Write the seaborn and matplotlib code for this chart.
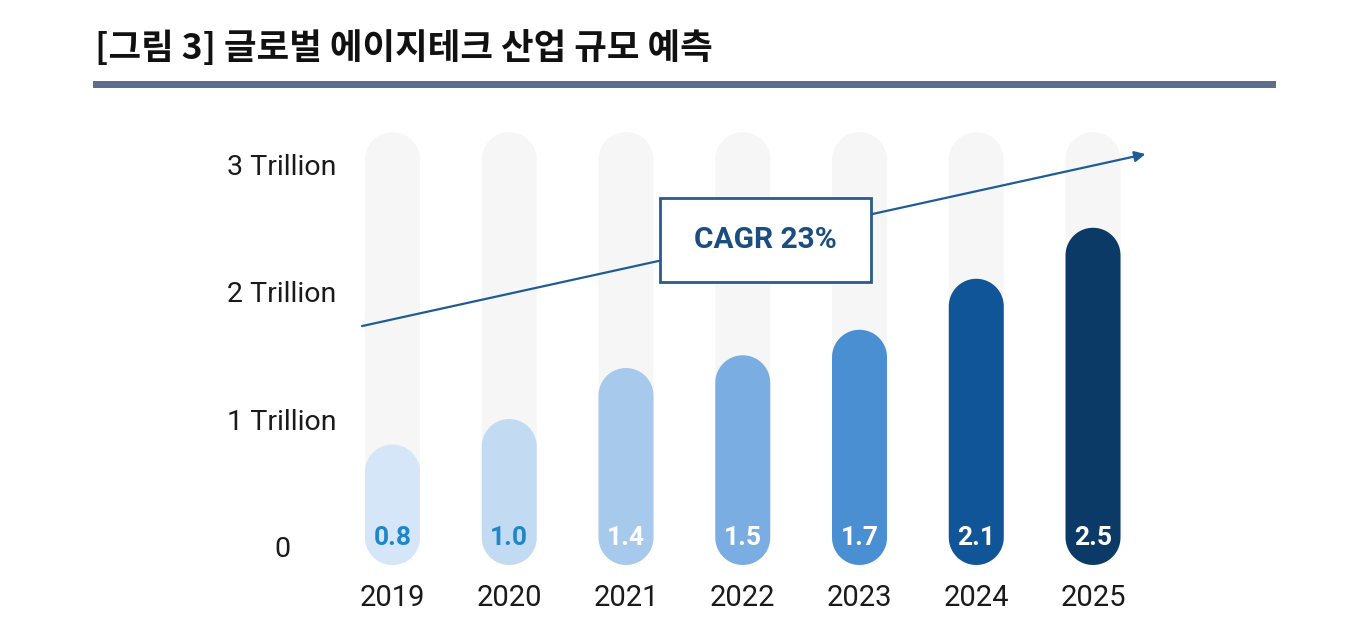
"""Global age-tech market size forecast, rounded bar chart."""

import numpy as np
import matplotlib
matplotlib.use("Agg")
import matplotlib.pyplot as plt
from matplotlib.patches import Polygon, Rectangle
import seaborn as sns

# data
years = ["2019", "2020", "2021", "2022", "2023", "2024", "2025"]
market_size = [0.8, 1.0, 1.4, 1.5, 1.7, 2.1, 2.5]  # trillion
value_labels = ["0.8", "1.0", "1.4", "1.5", "1.7", "2.1", "2.5"]
y_ticks = [0, 1, 2, 3]
y_tick_labels = ["0", "1 Trillion", "2 Trillion", "3 Trillion"]
title = "[그림 3] 글로벌 에이지테크 산업 규모 예측"
cagr_text = "CAGR 23%"

bar_colors = ["#d4e6f7", "#c3dbf2", "#a6c9ec", "#7aaee2", "#4a8fd2", "#0f5597", "#0b3a66"]
label_colors = ["#1f86c9", "#1f86c9", "white", "white", "white", "white", "white"]
track_color = "#f6f6f6"
arrow_color = "#1f5c96"

TRACK_TOP = 3.25
BAR_BOTTOM = -0.145
BAR_WIDTH = 0.471

sns.set_style("white")
plt.rcParams["font.family"] = ["Roboto", "Noto Sans CJK KR", "DejaVu Sans"]

fig = plt.figure(figsize=(13.54, 6.32), dpi=100)
W, H = 1354, 632
# axes placed in pixel terms
ax = fig.add_axes([334.1 / W, (H - 572) / H, 817.3 / W, (572 - 119.4) / H])

# seaborn draws the tracks and bars, then they get reshaped into pills
sns.barplot(x=years, y=[TRACK_TOP] * len(years), color=track_color,
            width=BAR_WIDTH, saturation=1, ax=ax, zorder=1)
sns.barplot(x=years, y=market_size, hue=years, palette=bar_colors,
            legend=False, width=BAR_WIDTH, saturation=1, ax=ax, zorder=2)

ax.set_xlim(-0.5, 6.5)
ax.set_ylim(-0.2, 3.35)

# pixels per data unit, for circular end caps
p0 = ax.transData.transform((0, 0))
p1 = ax.transData.transform((1, 1))
px_x, px_y = p1[0] - p0[0], p1[1] - p0[1]


def pill(x0, w, y_top, color, z):
    r = w / 2
    ry = r * px_x / px_y
    xc = x0 + r
    t = np.linspace(0, np.pi, 40)
    top = np.column_stack([xc + r * np.cos(t), y_top - ry + ry * np.sin(t)])
    bot = np.column_stack([xc - r * np.cos(t), BAR_BOTTOM + ry - ry * np.sin(t)])
    verts = np.vstack([top, bot])
    ax.add_patch(Polygon(verts, closed=True, facecolor=color, edgecolor="none",
                         zorder=z, clip_on=False))


patches = list(ax.patches)
for i, p in enumerate(patches):
    p.set_visible(False)
    z = 1 if i < len(years) else 2
    pill(p.get_x(), p.get_width(), p.get_height(), p.get_facecolor(), z)

# value labels inside bars
for i, (lab, col) in enumerate(zip(value_labels, label_colors)):
    ax.text(i, 0.067, lab, ha="center", va="center", color=col,
            fontsize=19, fontweight="bold", zorder=5)

# CAGR arrow and box
ax.annotate("", xy=(6.449, 3.078), xytext=(-0.261, 1.729),
            arrowprops=dict(arrowstyle="-|>", color=arrow_color, lw=1.6,
                            mutation_scale=16, shrinkA=0, shrinkB=0),
            annotation_clip=False, zorder=6)
ax.add_patch(Rectangle((2.292, 2.075), 1.808, 0.658, facecolor="white",
                       edgecolor="#2b5b8c", lw=2, zorder=7, clip_on=False))
ax.text(3.196, 2.404, cagr_text, ha="center", va="center", color="#1c4d80",
        fontsize=21.5, fontweight="bold", zorder=8)

# axes cosmetics: y labels are centred in their column
ax.set_yticks(y_ticks, y_tick_labels)
ax.tick_params(axis="y", length=0, pad=37.5, labelsize=20.5, labelcolor="#1a1a1a")
for lab in ax.get_yticklabels():
    lab.set_horizontalalignment("center")
ax.tick_params(axis="x", length=0, pad=9, labelsize=21, labelcolor="#1a1a1a")
ax.set_xlabel("")
ax.set_ylabel("")
sns.despine(ax=ax, left=True, bottom=True)

# title and rule
fig.text(95 / W, 1 - 48 / H, title, ha="left", va="center", fontsize=25.5,
         fontweight="bold", color="#111111",
         family=["Noto Sans CJK KR", "DejaVu Sans"])
fig.add_artist(Rectangle((93 / W, 1 - 88 / H), (1276 - 93) / W, 7 / H,
                         transform=fig.transFigure, facecolor="#5c6d8d",
                         edgecolor="none"))

fig.savefig("out.png", dpi=100)
plt.close(fig)
print("saved out.png")
